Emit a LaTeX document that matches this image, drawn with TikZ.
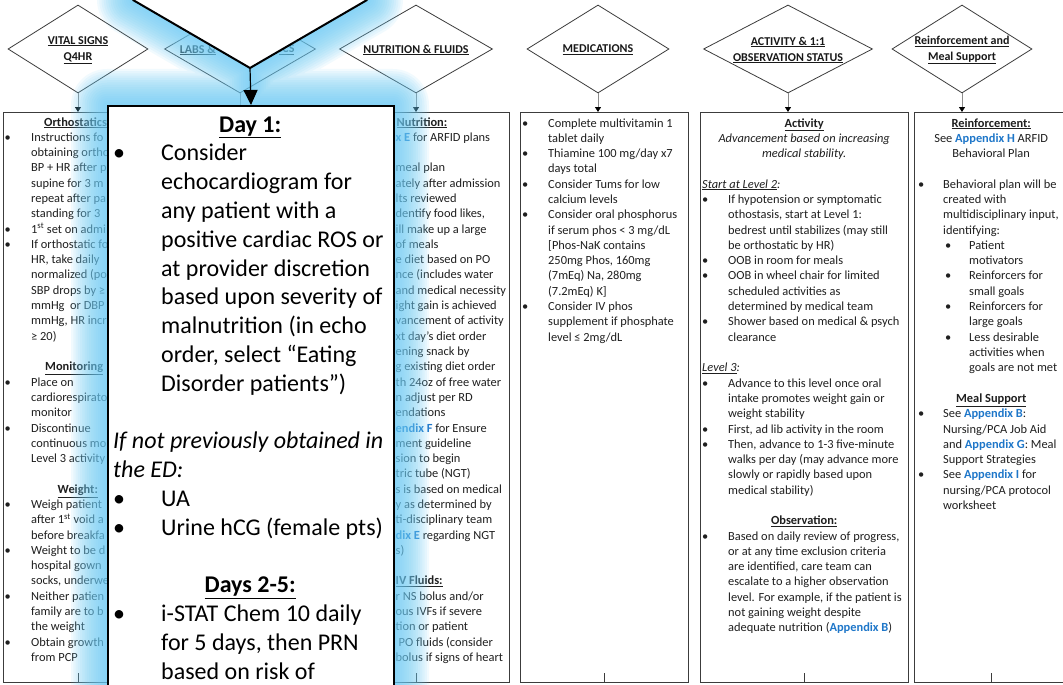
\documentclass[tikz,border=0pt]{standalone}
\usepackage{fontspec}
\setmainfont{Carlito}
\usetikzlibrary{arrows.meta,shapes.geometric}

\definecolor{linkblue}{HTML}{1F77C9}
\definecolor{glowblue}{RGB}{108,204,246}
\definecolor{edgegray}{HTML}{3C3C3C}
\definecolor{stemgray}{HTML}{8C8C8C}

% helpers for the column texts
\newcommand\apx[1]{\textcolor{linkblue}{\textbf{#1}}}
\newcommand\uh[1]{\underline{\textbf{#1}}}
\newcommand\ui[1]{\underline{\textit{#1}}}
\newlength\bulw
\newcommand\bi{\makebox[\bulw][l]{\textbullet}}
\newcommand\ci{\hspace*{\bulw}}
\newcommand\ctr[1]{\makebox[\linewidth][c]{#1}}
\newcommand\tightlines{\lineskiplimit=-40pt\relax\lineskip=0pt\relax\parindent=0pt\relax\parskip=0pt\relax}
\newcommand\colfont{\fontsize{12.4}{15.3}\selectfont\tightlines}
\newcommand\magfont{\fontsize{24}{28.8}\selectfont\tightlines}
\newcommand\diafont{\fontsize{12}{16}\selectfont\bfseries}

\begin{document}
\begin{tikzpicture}[x=1pt,y=-1pt,
  colbox/.style={draw=edgegray, line width=0.9pt, rectangle, inner sep=0pt},
  decision/.style={diamond, draw=edgegray, line width=0.8pt, inner sep=0pt, fill=white},
  dlabel/.style={font=\diafont, align=center, inner sep=0pt, text=black!90},
  stem/.style={draw=stemgray, line width=0.9pt, -{Triangle[length=5pt,width=6pt,color=black]}},
  tailstem/.style={draw=edgegray, line width=0.8pt},
  coltext/.style={anchor=base west, inner sep=0pt, text=black!88},
  magbox/.style={draw=black, line width=2pt, fill=white, rectangle, inner sep=0pt},
  vline/.style={draw=black, line width=2pt, line cap=round, line join=miter},
]
\useasboundingbox[fill=white] (0,0) rectangle (1063,685);

% ---------- decision diamonds ----------
\node[decision, minimum width=140pt, minimum height=88pt] (d1) at (78,49) {};
\node[decision, minimum width=151pt, minimum height=88pt] (d2) at (240,49) {};
\node[decision, minimum width=153pt, minimum height=88pt] (d3) at (416,49) {};
\node[decision, minimum width=142pt, minimum height=88pt] (d4) at (598,49) {};
\node[decision, minimum width=169pt, minimum height=88pt] (d5) at (788,49) {};
\node[decision, minimum width=140pt, minimum height=88pt] (d6) at (962,49) {};

\node[dlabel] (l1) at (78,50) {\underline{VITAL SIGNS}\\\underline{Q4HR}};
\node[dlabel, anchor=east] (l2a) at (216,50) {\underline{LABS \&}};
\node[dlabel, anchor=west] (l2b) at (279,50) {\underline{ICS}};
\node[dlabel] (l3) at (416,50) {\underline{NUTRITION \& FLUIDS}};
\node[dlabel] (l4) at (598,50) {\underline{MEDICATIONS}};
\node[dlabel] (l5) at (788,50) {\underline{ACTIVITY \& 1:1}\\\underline{OBSERVATION STATUS}};
\node[dlabel] (l6) at (962,50) {\underline{Reinforcement and}\\\underline{Meal Support}};

% ---------- column boxes ----------
\node[colbox, minimum width=150pt, minimum height=570pt, anchor=north west] (b1) at (3,112) {};
\node[colbox, minimum width=154pt, minimum height=570pt, anchor=north west] (b2) at (163,112) {};
\node[colbox, minimum width=186pt, minimum height=570pt, anchor=north west] (b3) at (323,112) {};
\node[colbox, minimum width=168pt, minimum height=570pt, anchor=north west] (b4) at (520,112) {};
\node[colbox, minimum width=208pt, minimum height=570pt, anchor=north west] (b5) at (700,112) {};
\node[colbox, minimum width=154pt, minimum height=570pt, anchor=north west] (b6) at (914,112) {};

\foreach \i in {1,...,6}{
  \draw[stem] (d\i.south) -- (d\i.south |- b\i.north);
  \coordinate (e\i) at ([yshift=10pt]b\i.south);
  \draw[tailstem] (b\i.south) -- (e\i);
}

% ---------- vital signs column ----------
\node[coltext] (t1) at (4.5,126) {\begin{minipage}[t]{148pt}\colfont\setlength\bulw{26.5pt}%
\hspace*{39.5pt}\uh{Orthostatics}\\
\bi Instructions fo\\
\ci obtaining ortho\\
\ci BP + HR after p\\
\ci supine for 3 m\\
\ci repeat after pa\\
\ci standing for 3\\
\bi 1\textsuperscript{st} set on admi\\
\bi If orthostatic fo\\
\ci HR, take daily\\
\ci normalized (po\\
\ci SBP drops by ≥\\
\ci mmHg\ \ or DBP\\
\ci mmHg, HR incr\\
\ci ≥ 20)\\
\mbox{}\\
\hspace*{40.5pt}\uh{Monitoring}\\
\bi Place on\\
\ci cardiorespirato\\
\ci monitor\\
\bi Discontinue\\
\ci continuous mo\\
\ci Level 3 activity\\
\mbox{}\\
\hspace*{53pt}\uh{Weight:}\\
\bi Weigh patient\\
\ci after 1\textsuperscript{st} void a\\
\ci before breakfa\\
\bi Weight to be d\\
\ci hospital gown\\
\ci socks, underwe\\
\bi Neither patien\\
\ci family are to b\\
\ci the weight\\
\bi Obtain growth\\
\ci from PCP
\end{minipage}};

% ---------- nutrition column ----------
\node[coltext] (t3) at (395.5,126) {\begin{minipage}[t]{120pt}\colfont
\hspace*{1pt}\uh{Nutrition:}\\
\apx{x E} for ARFID plans\\
\mbox{}\\
meal plan\\
ately after admission\\
lts reviewed\\
dentify food likes,\\
ill make up a large\\
of meals\\
e diet based on PO\\
nce (includes water\\
and medical necessity\\
ight gain is achieved\\
vancement of activity\\
xt day’s diet order\\
ening snack by\\
g existing diet order\\
th 24oz of free water\\
n adjust per RD\\
endations\\
\apx{endix F} for Ensure\\
ment guideline\\
sion to begin\\
tric tube (NGT)\\
s is based on medical\\
y as determined by\\
ti-disciplinary team\\
\apx{dix E} regarding NGT\\
s)\\
\mbox{}\\
\uh{IV Fluids:}\\
r NS bolus and/or\\
ous IVFs if severe\\
tion or patient\\
\hspace*{3pt}PO fluids (consider\\
bolus if signs of heart
\end{minipage}};

% ---------- medications column ----------
\node[coltext] (t4) at (522,127) {\begin{minipage}[t]{164pt}\colfont\setlength\bulw{26pt}%
\bi Complete multivitamin 1\\
\ci tablet daily\\
\bi Thiamine 100 mg/day x7\\
\ci days total\\
\bi Consider Tums for low\\
\ci calcium levels\\
\bi Consider oral phosphorus\\
\ci if serum phos < 3 mg/dL\\
\ci [Phos-NaK contains\\
\ci 250mg Phos, 160mg\\
\ci (7mEq) Na, 280mg\\
\ci (7.2mEq) K]\\
\bi Consider IV phos\\
\ci supplement if phosphate\\
\ci level ≤ 2mg/dL
\end{minipage}};

% ---------- activity column ----------
\node[coltext] (t5) at (702,127) {\begin{minipage}[t]{204pt}\colfont\setlength\bulw{26pt}%
\ctr{\uh{Activity}}\\
\ctr{\textit{Advancement based on increasing}}\\
\ctr{\textit{medical stability.}}\\
\mbox{}\\
\ui{Start at Level 2}\textit{:}\\
\bi If hypotension or symptomatic\\
\ci othostasis, start at Level 1:\\
\ci bedrest until stabilizes (may still\\
\ci be orthostatic by HR)\\
\bi OOB in room for meals\\
\bi OOB in wheel chair for limited\\
\ci scheduled activities as\\
\ci determined by medical team\\
\bi Shower based on medical \& psych\\
\ci clearance\\
\mbox{}\\
\ui{Level 3}\textit{:}\\
\bi Advance to this level once oral\\
\ci intake promotes weight gain or\\
\ci weight stability\\
\bi First, ad lib activity in the room\\
\bi Then, advance to 1-3 five-minute\\
\ci walks per day (may advance more\\
\ci slowly or rapidly based upon\\
\ci medical stability)\\
\mbox{}\\
\ctr{\uh{Observation:}}\\
\bi Based on daily review of progress,\\
\ci or at any time exclusion criteria\\
\ci are identified, care team can\\
\ci escalate to a higher observation\\
\ci level. For example, if the patient is\\
\ci not gaining weight despite\\
\ci adequate nutrition (\apx{Appendix B})
\end{minipage}};

% ---------- reinforcement column ----------
\node[coltext] (t6) at (918,127) {\begin{minipage}[t]{146pt}\colfont\setlength\bulw{25pt}%
\ctr{\uh{Reinforcement:}}\\
\ctr{See \apx{Appendix H} ARFID}\\
\ctr{Behavioral Plan}\\
\mbox{}\\
\bi Behavioral plan will be\\
\ci created with\\
\ci multidisciplinary input,\\
\ci identifying:\\
\hspace*{27pt}\makebox[24pt][l]{\textbullet}Patient\\
\hspace*{51pt}motivators\\
\hspace*{27pt}\makebox[24pt][l]{\textbullet}Reinforcers for\\
\hspace*{51pt}small goals\\
\hspace*{27pt}\makebox[24pt][l]{\textbullet}Reinforcers for\\
\hspace*{51pt}large goals\\
\hspace*{27pt}\makebox[24pt][l]{\textbullet}Less desirable\\
\hspace*{51pt}activities when\\
\hspace*{51pt}goals are not met\\
\mbox{}\\
\ctr{\uh{Meal Support}}\\
\bi See \apx{Appendix B}:\\
\ci Nursing/PCA Job Aid\\
\ci and \apx{Appendix G}: Meal\\
\ci Support Strategies\\
\bi See \apx{Appendix I} for\\
\ci nursing/PCA protocol\\
\ci worksheet
\end{minipage}};

% ---------- magnified callout with its glow ----------
\coordinate (vl) at (133,0);
\coordinate (vr) at (367,0);
\coordinate (apex) at (250,68);
\coordinate (mag-nw) at (107,105);
\coordinate (mag-se) at (393,720);

\foreach \k in {1,...,16}{
  \draw[glowblue, draw opacity=0.09, line width=\k*4.5pt, line cap=round, line join=round]
    (vl) -- (apex) -- (vr) (apex) -- (250,105) (mag-nw) rectangle (mag-se);
}
\fill[white] (vl) -- (apex) -- (vr) -- (420,-40) -- (80,-40) -- cycle;

\node[magbox, minimum width=286pt, minimum height=615pt, anchor=north west] (mag) at (mag-nw) {};

\node[anchor=base west, inner sep=0pt] (magtext) at (113,132) {\begin{minipage}[t]{274pt}\magfont\setlength\bulw{48pt}%
\ctr{\uh{Day 1:}}\\
\bi Consider\\
\ci echocardiogram for\\
\ci any patient with a\\
\ci positive cardiac ROS or\\
\ci at provider discretion\\
\ci based upon severity of\\
\ci malnutrition (in echo\\
\ci order, select “Eating\\
\ci Disorder patients”)\\
\mbox{}\\
\textit{If not previously obtained in}\\
\textit{the ED:}\\
\bi UA\\
\bi Urine hCG (female pts)\\
\mbox{}\\
\ctr{\uh{Days 2-5:}}\\
\bi i-STAT Chem 10 daily\\
\ci for 5 days, then PRN\\
\ci based on risk of
\end{minipage}};

\draw[vline] (vl) -- (apex) -- (vr);
\draw[draw=black, line width=1.2pt, -{Triangle[length=15pt,width=14pt]}] (apex) -- (mag.north);
\end{tikzpicture}
\end{document}
